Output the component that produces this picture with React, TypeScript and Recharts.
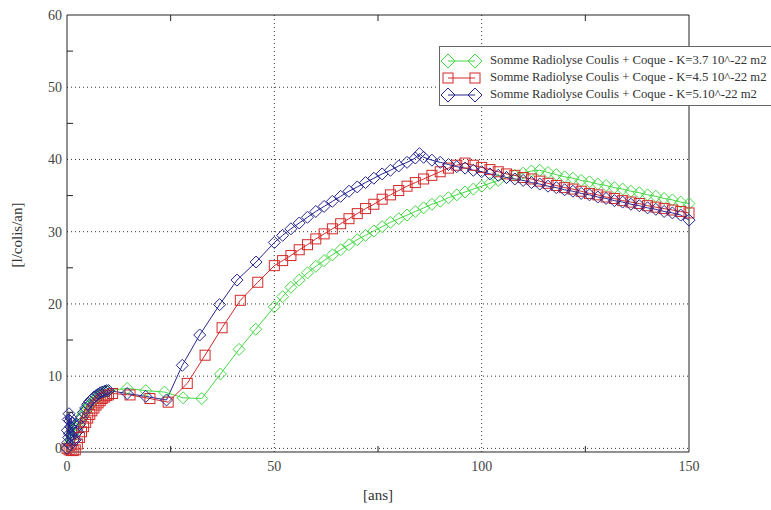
import { LineChart, Line, XAxis, YAxis, CartesianGrid } from "recharts";

// K = 3.7 10^-22 m2
const greenYears = [
  0, 0.5, 1, 1.5, 2, 2.5, 3, 3.5, 4, 4.5, 5, 5.5, 6, 6.5, 7, 7.5, 8, 8.5, 9, 9.5, 10,
  14.5, 19, 23.5, 28, 32.5, 37, 41.5, 45.5,
  50, 52, 54, 56, 58, 60, 62, 64, 66, 68, 70, 72, 74, 76, 78, 80, 82, 84, 86, 88, 90,
  92, 94, 96, 98, 100, 102, 104, 106, 108, 110, 112, 114, 116, 118, 120, 122, 124, 126, 128, 130,
  132, 134, 136, 138, 140, 142, 144, 146, 148, 150,
];
const greenValues = [
  0, 0.6, 1.3, 2, 2.7, 3.3, 3.9, 4.4, 4.9, 5.3, 5.7, 6.1, 6.4, 6.7, 7, 7.2, 7.4, 7.6, 7.8, 7.9, 8,
  8.3, 8, 7.8, 7, 6.9, 10.3, 13.7, 16.5,
  19.6, 21, 22.3, 23.3, 24.3, 25.2, 26, 26.8, 27.5, 28.2, 28.9, 29.5, 30.1, 30.7, 31.3, 31.8, 32.3, 32.8, 33.3, 33.8, 34.2,
  34.7, 35.1, 35.5, 35.9, 36.3, 36.7, 37.1, 37.5, 37.8, 38.1, 38.4, 38.5, 38.2, 37.9, 37.6, 37.4, 37.1, 36.9, 36.6, 36.4,
  36.1, 35.9, 35.6, 35.4, 35.1, 34.9, 34.6, 34.4, 34.1, 33.9,
];

// K = 4.5 10^-22 m2
const redYears = [
  0, 0.5, 1, 1.5, 2, 2.5, 3, 3.5, 4, 4.5, 5, 5.5, 6, 6.5, 7, 7.5, 8, 8.5, 9, 9.5, 10,
  11, 15.2, 20, 24.4, 29, 33.3, 37.4, 41.8, 46,
  50, 52, 54, 56, 58, 60, 62, 64, 66, 68, 70, 72, 74, 76, 78, 80, 82, 84, 86, 88, 90,
  92, 94, 96, 98, 100, 102, 104, 106, 108, 110, 112, 114, 116, 118, 120, 122, 124, 126, 128, 130,
  132, 134, 136, 138, 140, 142, 144, 146, 148, 150,
];
const redValues = [
  0, -0.2, -0.3, -0.3, -0.2, 0.6, 1.5, 2.3, 3, 3.6, 4.2, 4.7, 5.2, 5.6, 6, 6.3, 6.6, 6.9, 7.1, 7.3, 7.4,
  7.6, 7.4, 6.9, 6.4, 9, 12.9, 16.7, 20.5, 23,
  25.3, 26, 26.7, 27.5, 28.2, 29, 29.7, 30.4, 31.1, 31.8, 32.5, 33.2, 33.8, 34.5, 35.1, 35.7, 36.3, 36.8, 37.3, 37.8, 38.3,
  38.8, 39.2, 39.5, 39.2, 38.9, 38.6, 38.3, 38, 37.8, 37.5, 37.3, 37, 36.7, 36.4, 36.1, 35.9, 35.6, 35.3, 35.1, 34.8,
  34.6, 34.3, 34.1, 33.9, 33.6, 33.4, 33.2, 33, 32.8, 32.6,
];

// K = 5.10^-22 m2
const blueYears = [
  0, 0.1, 0.2, 0.3, 0.4, 0.5, 0.6, 0.7, 0.8, 0.9, 1, 1.2, 1.4, 1.6, 1.8, 2,
  2.5, 3, 3.5, 4, 4.5, 5, 5.5, 6, 6.5, 7, 7.5, 8, 8.5, 9, 9.5, 10,
  14.5, 19, 24, 27.8, 32, 36.8, 41, 45.6,
  50, 52, 54, 56, 58, 60, 62, 64, 66, 68, 70, 72, 74, 76, 78, 80, 82, 84, 85, 86, 88, 90,
  92, 94, 96, 98, 100, 102, 104, 106, 108, 110, 112, 114, 116, 118, 120, 122, 124, 126, 128, 130,
  132, 134, 136, 138, 140, 142, 144, 146, 148, 150,
];
const blueValues = [
  0, 2.5, 0.8, 4, 1.5, 4.8, 2, 3.8, 0.5, 3, 4.2, 1.8, 3.5, 1.2, 2.4, 1.2,
  2.3, 3.3, 4.2, 5, 5.6, 6.1, 6.5, 6.8, 7.1, 7.3, 7.5, 7.7, 7.8, 7.9, 8, 8,
  7.6, 7.2, 6.7, 11.5, 15.7, 19.9, 23.3, 25.8,
  28.5, 29.5, 30.4, 31.2, 32, 32.8, 33.5, 34.2, 34.9, 35.6, 36.2, 36.8, 37.4, 38, 38.5, 39.1, 39.6, 40.2, 40.8, 40.3, 39.9, 39.6,
  39.3, 39, 38.8, 38.5, 38.3, 38, 37.8, 37.5, 37.3, 37.1, 36.8, 36.6, 36.3, 36.1, 35.8, 35.6, 35.3, 35.1, 34.8, 34.6,
  34.3, 34.1, 33.8, 33.6, 33.3, 33.1, 32.8, 32.6, 32.3, 31.6,
];

const yTicks = [0, 5, 10, 15, 20, 25, 30, 35, 40, 45, 50, 55, 60];
const xTicks = [0, 25, 50, 75, 100, 125, 150];
const gridY = [0, 10, 20, 30, 40, 50];
const gridX = [50, 100];

const legendLabels = [
  "Somme Radiolyse Coulis + Coque - K=3.7 10^-22 m2",
  "Somme Radiolyse Coulis + Coque - K=4.5 10^-22 m2",
  "Somme Radiolyse Coulis + Coque - K=5.10^-22 m2",
];

const toRows = (xs: number[], ys: number[]) => xs.map((x, i) => ({ x, y: ys[i] }));
const greenData = toRows(greenYears, greenValues);
const redData = toRows(redYears, redValues);
const blueData = toRows(blueYears, blueValues);

const GREEN = "#44d844";
const RED = "#d42a2a";
const BLUE = "#262690";
const FONT = "'Liberation Serif', 'DejaVu Serif', serif";

const diamond = (color: string) => (p: any) => (
  <polygon
    key={`d-${color}-${p.index}`}
    points={`${p.cx},${p.cy - 6} ${p.cx + 6},${p.cy} ${p.cx},${p.cy + 6} ${p.cx - 6},${p.cy}`}
    fill="none"
    stroke={color}
    strokeWidth={1}
  />
);

const square = (color: string) => (p: any) => (
  <rect key={`s-${p.index}`} x={p.cx - 5} y={p.cy - 5} width={10} height={10} fill="none" stroke={color} strokeWidth={1} />
);

// tick x/y come in as label positions: axis line is tickMargin away
const LeftTick = (p: any) => {
  const v = p.payload.value;
  if (v % 10 !== 0) return <line x1={p.x + 5} x2={p.x + 11} y1={p.y} y2={p.y} stroke="#222" />;
  return (
    <text x={p.x} y={p.y} dy={5} textAnchor="end" fontSize={14} fill="#444" fontFamily={FONT}>
      {v}
    </text>
  );
};

const RightTick = (p: any) => {
  const v = p.payload.value;
  if (v % 10 === 0) return <g />;
  return <line x1={p.x - 7} x2={p.x} y1={p.y} y2={p.y} stroke="#222" />;
};

const BottomTick = (p: any) => {
  const v = p.payload.value;
  if (v % 50 !== 0) return <line x1={p.x} x2={p.x} y1={p.y - 8} y2={p.y - 14} stroke="#222" />;
  return (
    <text x={p.x} y={p.y} dy={11} textAnchor="middle" fontSize={14} fill="#444" fontFamily={FONT}>
      {v}
    </text>
  );
};

const TopTick = (p: any) => {
  const v = p.payload.value;
  if (v % 50 === 0) return <g />;
  return <line x1={p.x} x2={p.x} y1={p.y} y2={p.y + 6} stroke="#222" />;
};

const LegendSymbol = ({ color, kind }: { color: string; kind: "d" | "s" }) => (
  <svg width={42} height={16} style={{ display: "block" }}>
    <line x1={8} x2={35} y1={8} y2={8} stroke={color} strokeWidth={1} />
    {[8, 35].map((cx) =>
      kind === "d" ? (
        <polygon key={cx} points={`${cx},1 ${cx + 7},8 ${cx},15 ${cx - 7},8`} fill="none" stroke={color} />
      ) : (
        <rect key={cx} x={cx - 5} y={3} width={10} height={10} fill="none" stroke={color} />
      )
    )}
  </svg>
);

const App = () => {
  return (
    <div style={{ position: "absolute", left: 0, top: 0, width: 771, height: 510, overflow: "hidden", background: "#fff" }}>
      <LineChart width={771} height={510} data={greenData} margin={{ top: 0, right: 0, bottom: 0, left: 0 }}>
        <CartesianGrid
          horizontalValues={gridY}
          verticalValues={gridX}
          stroke="#333"
          strokeDasharray="1 3"
        />
        <XAxis
          dataKey="x"
          type="number"
          domain={[0, 150]}
          ticks={xTicks}
          height={58}
          tickSize={0}
          tickMargin={8}
          tickLine={false}
          axisLine={{ stroke: "#222" }}
          tick={BottomTick}
          interval={0}
        />
        <XAxis
          xAxisId="top"
          orientation="top"
          dataKey="x"
          type="number"
          domain={[0, 150]}
          ticks={xTicks}
          height={15}
          tickSize={0}
          tickMargin={0}
          tickLine={false}
          axisLine={{ stroke: "#222" }}
          tick={TopTick}
          interval={0}
        />
        <YAxis
          type="number"
          domain={[-0.5, 60]}
          ticks={yTicks}
          width={67}
          tickSize={0}
          tickMargin={5}
          tickLine={false}
          axisLine={{ stroke: "#222" }}
          tick={LeftTick}
          interval={0}
        />
        <YAxis
          yAxisId="right"
          orientation="right"
          type="number"
          domain={[-0.5, 60]}
          ticks={yTicks}
          width={82}
          tickSize={0}
          tickMargin={0}
          tickLine={false}
          axisLine={{ stroke: "#222" }}
          tick={RightTick}
          interval={0}
        />
        <Line data={greenData} dataKey="y" stroke={GREEN} strokeWidth={1} dot={diamond(GREEN)} activeDot={false} isAnimationActive={false} />
        <Line data={redData} dataKey="y" stroke={RED} strokeWidth={1} dot={square(RED)} activeDot={false} isAnimationActive={false} />
        <Line data={blueData} dataKey="y" stroke={BLUE} strokeWidth={1} dot={diamond(BLUE)} activeDot={false} isAnimationActive={false} />
      </LineChart>

      <div
        style={{
          position: "absolute",
          left: 0,
          top: 235,
          width: 34,
          textAlign: "center",
          transform: "translateY(-50%) rotate(-90deg)",
          fontFamily: FONT,
          fontSize: 15,
          color: "#333",
          whiteSpace: "nowrap",
          display: "flex",
          justifyContent: "center",
        }}
      >
        [l/colis/an]
      </div>
      <div
        style={{
          position: "absolute",
          left: 328,
          width: 100,
          top: 487,
          textAlign: "center",
          fontFamily: FONT,
          fontSize: 15,
          color: "#333",
        }}
      >
        [ans]
      </div>

      <div
        style={{
          position: "absolute",
          left: 439,
          top: 46,
          width: 360,
          height: 60,
          border: "1px solid #666",
          background: "#fff",
          fontFamily: FONT,
          fontSize: 12.7,
          color: "#333",
          boxSizing: "border-box",
          paddingTop: 5,
        }}
      >
        {legendLabels.map((label, i) => (
          <div key={label} style={{ display: "flex", alignItems: "center", height: 17, whiteSpace: "nowrap" }}>
            <LegendSymbol color={[GREEN, RED, BLUE][i]} kind={i === 1 ? "s" : "d"} />
            <span style={{ marginLeft: 8 }}>{label}</span>
          </div>
        ))}
      </div>
    </div>
  );
};

export default App;
